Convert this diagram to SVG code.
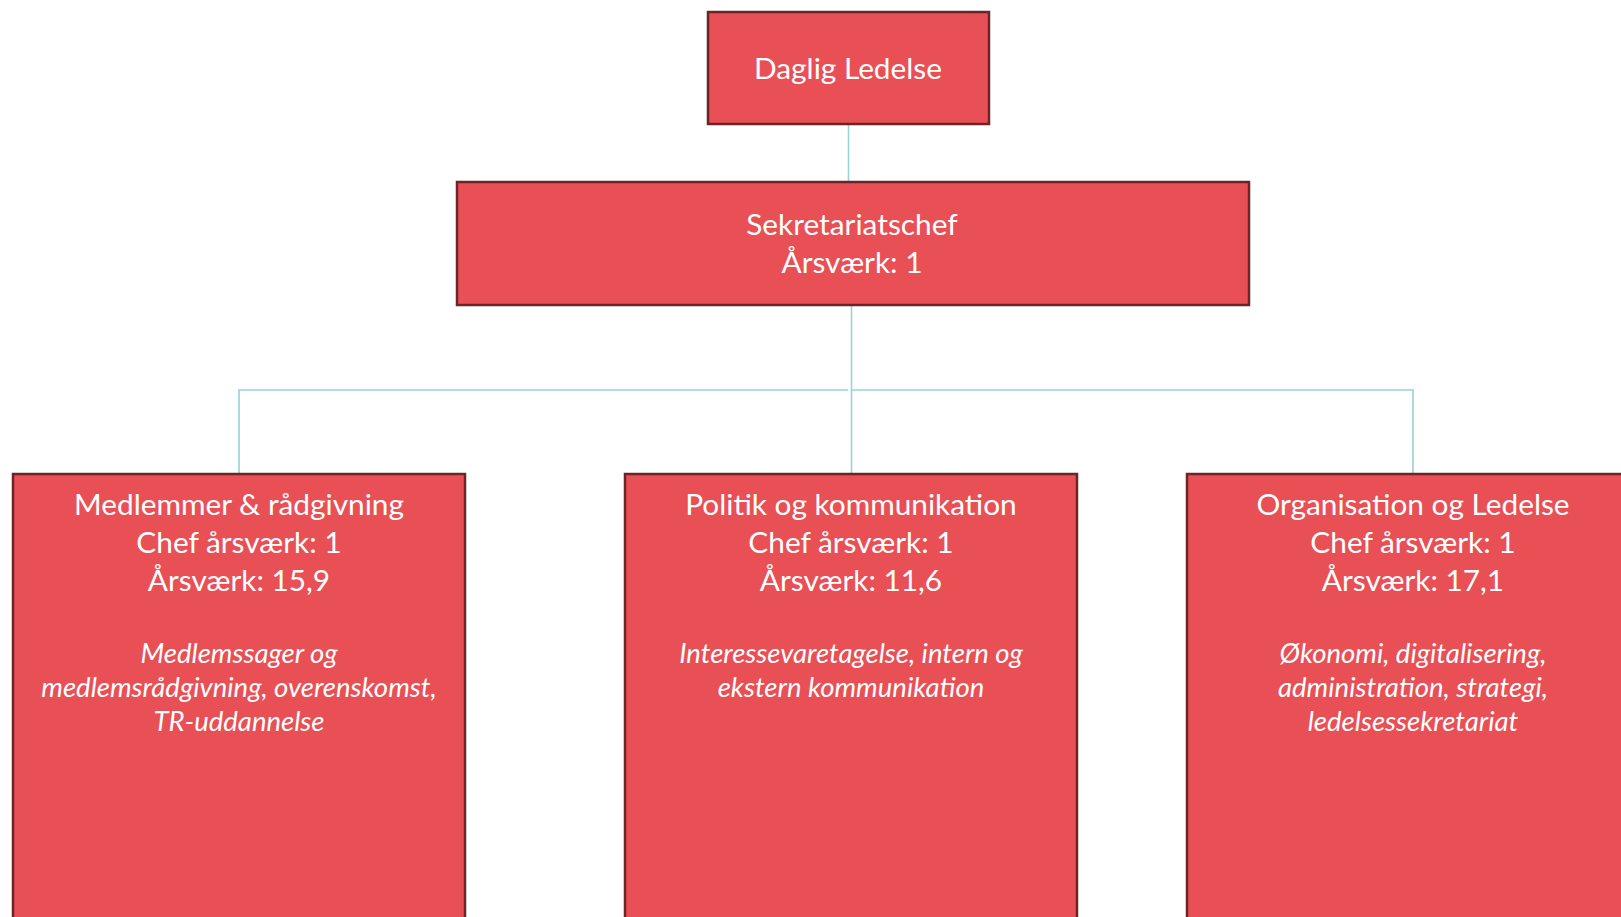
<svg xmlns="http://www.w3.org/2000/svg" width="1621" height="917" viewBox="0 0 1621 917">
  <style>
    .box { fill: #E95055; stroke: #6E2327; stroke-width: 2.5; }
    .link { fill: none; stroke: #97D3DB; stroke-width: 1.6; }
    .t { fill: #FFFFFF; font-family: Lato, "Liberation Sans", sans-serif; font-size: 29.8px; text-anchor: middle; }
    .d { fill: #FFFFFF; font-family: Lato, "Liberation Sans", sans-serif; font-size: 27.5px; font-style: italic; text-anchor: middle; }
  </style>
  <rect width="1621" height="917" fill="#FFFFFF"/>

  <g id="connectors">
    <line class="link" x1="848.5" y1="124" x2="848.5" y2="183"/>
    <line class="link" x1="851.5" y1="305" x2="851.5" y2="474"/>
    <polyline class="link" points="239,474 239,390 848,390"/>
    <polyline class="link" points="851,390 1413,390 1413,474"/>
  </g>

  <g id="daglig-ledelse">
    <rect class="box" x="708" y="12" width="281" height="112"/>
    <text class="t" x="848" y="79">Daglig Ledelse</text>
  </g>

  <g id="sekretariatschef">
    <rect class="box" x="457" y="182" width="792" height="123"/>
    <text class="t" x="852" y="235">Sekretariatschef</text>
    <text class="t" x="852" y="273">Årsværk: 1</text>
  </g>

  <g id="medlemmer">
    <rect class="box" x="13" y="474" width="452" height="460"/>
    <text class="t" x="239" y="515">Medlemmer &amp; rådgivning</text>
    <text class="t" x="239" y="553">Chef årsværk: 1</text>
    <text class="t" x="239" y="591">Årsværk: 15,9</text>
    <text class="d" x="239" y="663">Medlemssager og</text>
    <text class="d" x="239" y="697">medlemsrådgivning, overenskomst,</text>
    <text class="d" x="239" y="731">TR-uddannelse</text>
  </g>

  <g id="politik">
    <rect class="box" x="625" y="474" width="452" height="460"/>
    <text class="t" x="851" y="515">Politik og kommunikation</text>
    <text class="t" x="851" y="553">Chef årsværk: 1</text>
    <text class="t" x="851" y="591">Årsværk: 11,6</text>
    <text class="d" x="851" y="663">Interessevaretagelse, intern og</text>
    <text class="d" x="851" y="697">ekstern kommunikation</text>
  </g>

  <g id="organisation">
    <rect class="box" x="1187" y="474" width="460" height="460"/>
    <text class="t" x="1413" y="515">Organisation og Ledelse</text>
    <text class="t" x="1413" y="553">Chef årsværk: 1</text>
    <text class="t" x="1413" y="591">Årsværk: 17,1</text>
    <text class="d" x="1413" y="663">Økonomi, digitalisering,</text>
    <text class="d" x="1413" y="697">administration, strategi,</text>
    <text class="d" x="1413" y="731">ledelsessekretariat</text>
  </g>
</svg>
